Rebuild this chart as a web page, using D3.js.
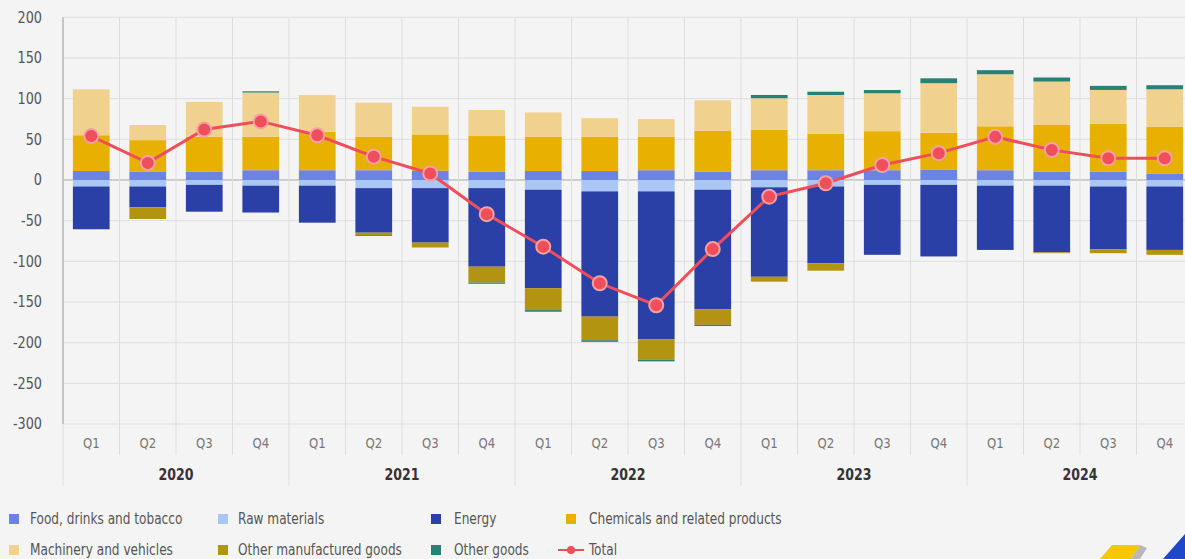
<!DOCTYPE html>
<html><head><meta charset="utf-8">
<script src="https://cdn.jsdelivr.net/npm/d3@7"></script>
<style>
html,body{margin:0;padding:0;background:#f4f4f4;}
svg{display:block;font-family:"DejaVu Sans Condensed","Liberation Sans Narrow",sans-serif;}
</style></head><body>
<svg id="chart" width="1185" height="559"></svg>
<script>
const years = ["2020","2021","2022","2023","2024"];
const quarters = ["Q1","Q2","Q3","Q4"];
const yTicks = [-300,-250,-200,-150,-100,-50,0,50,100,150,200];

const food   = [11,10,10,12,12,12,11.5,10,11,11,12,10,12,12,12,13,12,10,10,8];
const raw    = [-8,-8,-6,-7,-7,-10,-10,-10,-12,-14,-14,-12,-9,-8,-6,-6,-7,-7,-8,-8];
const energy = [-52.6,-25.6,-33,-33,-45.5,-54.8,-67,-96.6,-121,-154,-182,-147,-110,-94.5,-86,-88,-79,-82,-77,-78];
const chem   = [44,39,43,41,47.4,41,44.5,44,42,42,41,50.6,49.5,45,48,45,54,57.6,59,57.5];
const mach   = [56.5,18.6,43,54.5,45,42,34,32,30,23,22,37.4,39,47.5,46.6,61,64,53.4,41.7,46];
const omg    = [0,-14.4,0,0,0,-3,-6,-19.5,-27,-29,-25,-19,-6,-9,0,0,0,-1,-5,-6];
const other  = [0,0,0,1.5,0,-1,0,-1.5,-2,-2,-2,-1.5,4,4,4,6,5,5,5,5];
const total  = [54,21,62,72,55,28.7,8,-42,-82,-127,-154,-85,-20.5,-4,18.4,33,53,37,26.7,26.7];

const seriesNames = ["Food, drinks and tobacco","Raw materials","Energy","Chemicals and related products","Machinery and vehicles","Other manufactured goods","Other goods"];
const seriesColors = ["#6b84e4","#a9c6f6","#2a40a6","#e8b000","#f0d28e","#b39410","#2a7f76"];
const seriesData = [food,raw,energy,chem,mach,omg,other];
const totalName = "Total";
const totalColor = "#f04e5a";

const svg = d3.select("#chart");
const pL = 63, pR = 1193, pT = 17.3, pB = 424;

const cats = [];
years.forEach(yr => quarters.forEach(q => cats.push(yr + " " + q)));

const x = d3.scaleBand().domain(cats).range([pL, pR]).paddingInner(0.35).paddingOuter(0.175);
const y = d3.scaleLinear().domain([-300, 200]).range([pB, pT]);
const step = x.step();

const rows = cats.map((c, i) => {
  const r = {cat: c};
  seriesNames.forEach((n, k) => r[n] = seriesData[k][i]);
  return r;
});
const stack = d3.stack().keys(seriesNames).offset(d3.stackOffsetDiverging)(rows);

const g = svg.append("g");
g.selectAll(".hg").data(yTicks).join("line")
  .attr("x1", pL).attr("x2", pR)
  .attr("y1", d => y(d)).attr("y2", d => y(d))
  .attr("stroke", d => d === 0 ? "#a8a8a8" : "#dedede").attr("stroke-width", 1);

const bounds = d3.range(cats.length + 1).map(i => pL + i * step);
g.selectAll(".vg").data(bounds).join("line")
  .attr("x1", d => d).attr("x2", d => d)
  .attr("y1", pT)
  .attr("y2", (d, i) => (i % 4 === 0) ? 486 : 455)
  .attr("stroke", "#dedede").attr("stroke-width", 1);
g.append("line").attr("x1", pL).attr("x2", pL).attr("y1", pT).attr("y2", pB)
  .attr("stroke", "#c4c4c4").attr("stroke-width", 2);

svg.append("g").selectAll("text").data(yTicks).join("text")
  .attr("transform", d => `translate(42,${y(d)}) scale(0.92,1)`).attr("dy", "0.35em")
  .attr("text-anchor", "end").attr("font-size", 15.5).attr("fill", "#555")
  .text(d => d);

const bars = svg.append("g");
stack.forEach((s, k) => {
  bars.append("g").attr("fill", seriesColors[k])
    .selectAll("rect").data(s).join("rect")
    .attr("x", d => x(d.data.cat))
    .attr("width", x.bandwidth())
    .attr("y", d => y(Math.max(d[0], d[1])))
    .attr("height", d => Math.abs(y(d[0]) - y(d[1])));
});

const pts = cats.map((c, i) => [x(c) + x.bandwidth() / 2, y(total[i])]);
svg.append("path").attr("d", d3.line()(pts)).attr("fill", "none")
  .attr("stroke", totalColor).attr("stroke-width", 3);
svg.append("g").selectAll("circle").data(pts).join("circle")
  .attr("cx", d => d[0]).attr("cy", d => d[1]).attr("r", 7)
  .attr("fill", totalColor).attr("stroke", "#f7a0a4").attr("stroke-width", 2);

svg.append("g").selectAll("text").data(cats).join("text")
  .attr("transform", d => `translate(${x(d) + x.bandwidth() / 2},443) scale(0.9,1)`).attr("dy", "0.35em")
  .attr("text-anchor", "middle").attr("font-size", 14.5).attr("fill", "#777")
  .text((d, i) => quarters[i % 4]);
svg.append("g").selectAll("text").data(years).join("text")
  .attr("transform", (d, i) => `translate(${pL + step * (i * 4 + 2)},475) scale(0.9,1)`).attr("dy", "0.35em")
  .attr("text-anchor", "middle").attr("font-size", 15.5).attr("font-weight", "bold").attr("fill", "#333")
  .text(d => d);

const legX = [9, 218, 431, 566];
const legTextX = [30, 238, 454, 589];
const legY = [519, 550];
const leg = svg.append("g");
seriesNames.forEach((n, k) => {
  const col = k % 4, row = Math.floor(k / 4);
  leg.append("rect").attr("x", legX[col]).attr("y", legY[row] - 5).attr("width", 10).attr("height", 10)
    .attr("fill", seriesColors[k]);
  leg.append("text").attr("transform", `translate(${legTextX[col]},${legY[row]}) scale(0.87,1)`).attr("dy", "0.35em")
    .attr("font-size", 15.5).attr("fill", "#555").text(n);
});
leg.append("line").attr("x1", 558).attr("x2", 584).attr("y1", legY[1]).attr("y2", legY[1])
  .attr("stroke", totalColor).attr("stroke-width", 2);
leg.append("circle").attr("cx", 571).attr("cy", legY[1]).attr("r", 4).attr("fill", totalColor);
leg.append("text").attr("transform", `translate(${legTextX[3]},${legY[1]}) scale(0.87,1)`).attr("dy", "0.35em")
  .attr("font-size", 15.5).attr("fill", "#555").text(totalName);

const logo = svg.append("g");
logo.append("polygon").attr("points", "1112,545 1140,545 1131,559 1100,559").attr("fill", "#f5c800");
logo.append("polygon").attr("points", "1140,545 1147,548 1140,559 1131,559").attr("fill", "#b8b8b8");
logo.append("polygon").attr("points", "1185,534 1185,559 1163,559").attr("fill", "#1e48c8");
</script>
</body></html>
